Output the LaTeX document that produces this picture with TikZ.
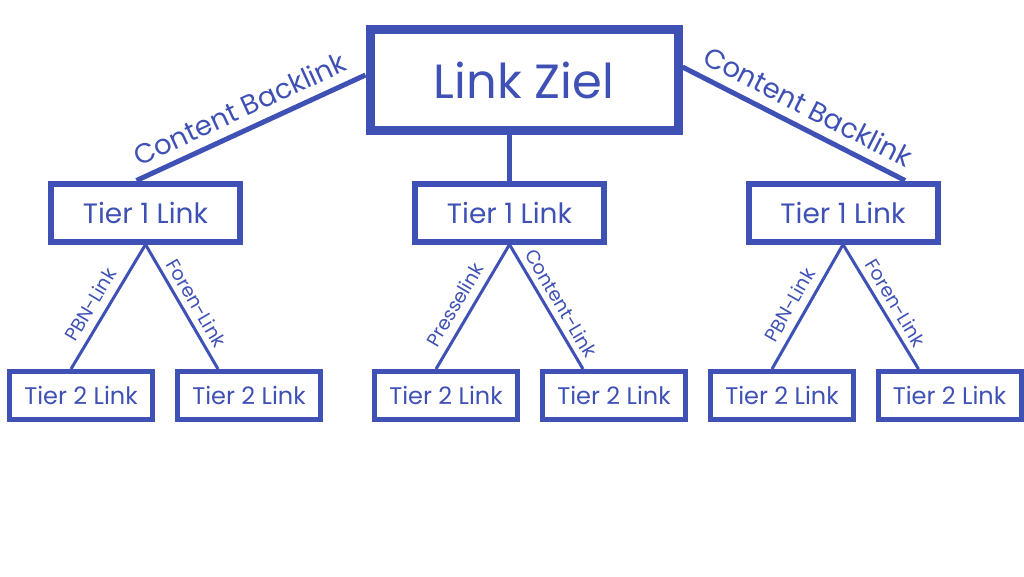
\documentclass[tikz,border=0pt]{standalone}
\usepackage{fontspec}
\setmainfont{Poppins}
\usetikzlibrary{calc,positioning}
\definecolor{linkblue}{RGB}{63,81,181}

\begin{document}
\begin{tikzpicture}[x=1pt,y=-1pt]
			\tikzset{block/.style= {draw=linkblue, rectangle, align=center, inner sep=0pt, text=linkblue},
				zielblock/.style={block, line width=9pt, minimum width=308pt, minimum height=101pt, font=\fontsize{48}{56}\selectfont},
				einsblock/.style={block, line width=6pt, minimum width=189pt, minimum height=58pt, font=\fontsize{28}{34}\selectfont},
				zweiblock/.style={block, line width=5pt, minimum width=143pt, minimum height=48pt, font=\fontsize{24}{28}\selectfont},
				conn/.style={draw=linkblue, line width=5pt},
				branch/.style={draw=linkblue, line width=3pt},
				lbl/.style={text=linkblue, sloped, above, inner sep=9pt, font=\fontsize{27.5}{32}\selectfont},
				smalllbl/.style={lbl, inner sep=6pt, font=\fontsize{19}{23}\selectfont},
			}
			\useasboundingbox (0,0) rectangle (1024,576);

			\node [zielblock] (ziel) at (524,80) {Link Ziel};

			\node [einsblock] (einsl) at (145.5,212.5) {Tier 1 Link};
			\node [einsblock] (einsm) at (509.5,212.5) {Tier 1 Link};
			\node [einsblock] (einsr) at (843,212.5) {Tier 1 Link};

			\node [zweiblock] (zweill) at (81,395.5) {Tier 2 Link};
			\node [zweiblock] (zweilr) at (249,395.5) {Tier 2 Link};
			\node [zweiblock] (zweiml) at (446,395.5) {Tier 2 Link};
			\node [zweiblock] (zweimr) at (614,395.5) {Tier 2 Link};
			\node [zweiblock] (zweirl) at (782,395.5) {Tier 2 Link};
			\node [zweiblock] (zweirr) at (949.5,395.5) {Tier 2 Link};

			\path[conn]
			([xshift=-9pt]einsl.north) -- node[lbl, pos=0.49] {Content Backlink} ([yshift=5pt]ziel.west);
			\path[conn]
			([yshift=13pt]ziel.east) -- node[lbl, pos=0.52] {Content Backlink} ([xshift=62pt]einsr.north);
			\path[conn]
			(einsm.north) -- (einsm.north |- ziel.south);

			% zweite Ebene
			\path[branch]
			([xshift=-10pt]zweill.north) -- node[smalllbl, inner sep=8pt, pos=0.45] {PBN-Link} (einsl.south);
			\path[branch]
			(einsl.south) -- node[smalllbl, pos=0.53] {Foren-Link} ([xshift=-31pt]zweilr.north);
			\path[branch]
			([xshift=-10pt]zweiml.north) -- node[smalllbl, inner sep=8pt, pos=0.45] {Presselink} (einsm.south);
			\path[branch]
			(einsm.south) -- node[smalllbl, pos=0.53] {Content-Link} ([xshift=-31pt]zweimr.north);
			\path[branch]
			([xshift=-10pt]zweirl.north) -- node[smalllbl, inner sep=8pt, pos=0.45] {PBN-Link} (einsr.south);
			\path[branch]
			(einsr.south) -- node[smalllbl, pos=0.53] {Foren-Link} ([xshift=-31pt]zweirr.north);
		\end{tikzpicture}
\end{document}
